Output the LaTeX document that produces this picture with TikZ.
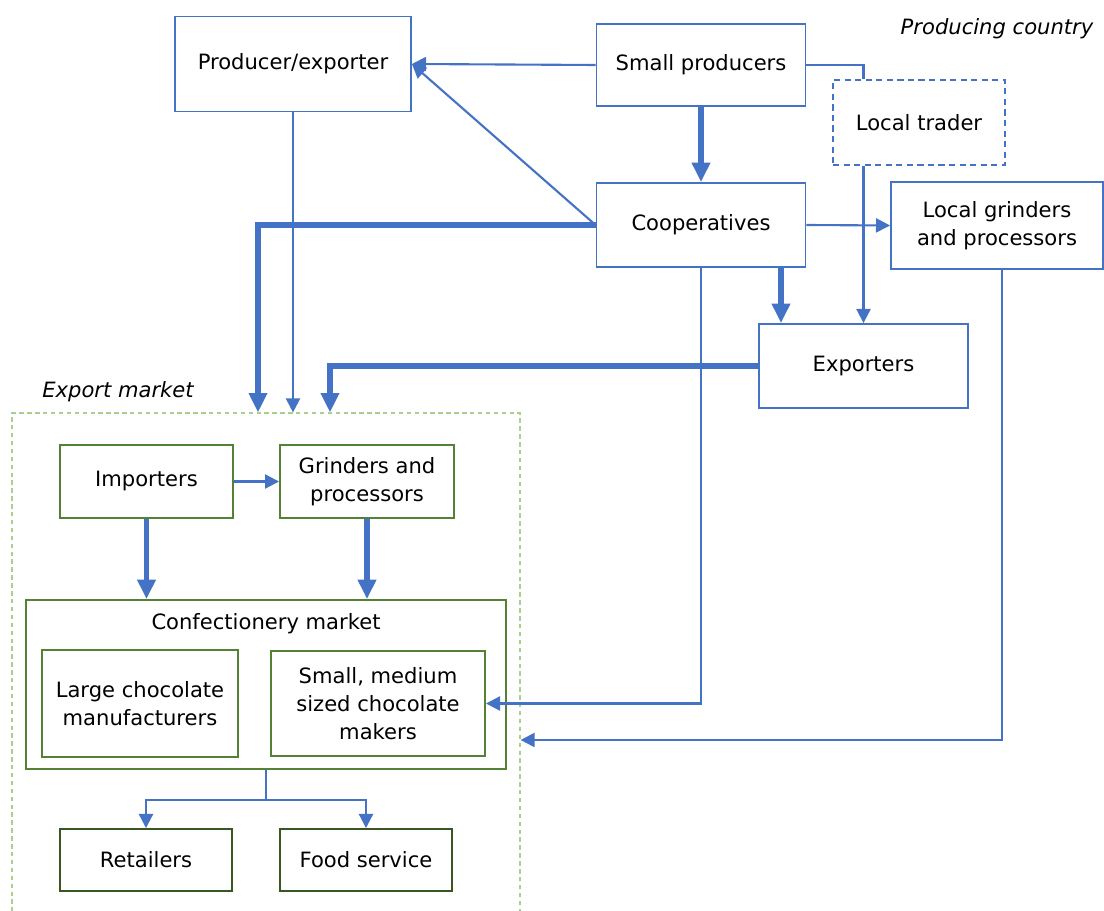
\documentclass[tikz,border=0pt]{standalone}
\usepackage{fontspec}
\setmainfont{DejaVu Sans}
\usetikzlibrary{arrows.meta}
\definecolor{flowblue}{HTML}{4472C4}
\definecolor{boxgreen}{HTML}{548235}
\definecolor{darkgreen}{HTML}{385723}
\definecolor{paleGreen}{HTML}{A9D18E}
\tikzset{
bluebox/.style={
	  draw=flowblue, line width=1.1pt, align=center,
	    font=\fontsize{12}{16}\selectfont, inner sep=2pt},
greenbox/.style={
	  draw=boxgreen, line width=1.1pt, align=center,
	    font=\fontsize{12}{16}\selectfont, inner sep=2pt},
marketbox/.style={
	  draw=paleGreen, line width=0.7pt, dash pattern=on 2.5pt off 2pt},
flow/.style={
	  draw=flowblue, line width=1.2pt, -{Triangle[length=8pt,width=8pt]}},
mainflow/.style={
	  draw=flowblue, line width=3.2pt, -{Triangle[length=11pt,width=10pt]}},
link/.style={draw=flowblue, line width=1.2pt}
}

\begin{document}
\begin{tikzpicture}[x=0.02cm, y=-0.02cm]
	\useasboundingbox (0,0) rectangle (1104,911);
	\node[bluebox, minimum width=4.72cm, minimum height=1.9cm] (prodexp) at (293,64) {Producer/exporter};
	\node[bluebox, minimum width=4.18cm, minimum height=1.64cm] (smallprod) at (701,65) {Small producers};
	\node[bluebox, dash pattern=on 3.5pt off 2.5pt, minimum width=3.44cm, minimum height=1.7cm] (trader) at (919,122.5) {Local trader};
	\node[bluebox, minimum width=4.18cm, minimum height=1.68cm] (coop) at (701,225) {Cooperatives};
	\node[bluebox, minimum width=4.24cm, minimum height=1.74cm] (localgrind) at (997,225.5) {Local grinders\\and processors};
	\node[bluebox, minimum width=4.18cm, minimum height=1.68cm] (exporters) at (863.5,366) {Exporters};
	\node[font=\fontsize{12}{16}\selectfont\itshape] (producing) at (997,29) {Producing country};
	\node[marketbox, minimum width=10.16cm, minimum height=10.28cm] (export) at (266,670) {};
	\node[font=\fontsize{12}{16}\selectfont\itshape] (exportlabel) at (118,392) {Export market};
	\node[greenbox, minimum width=3.46cm, minimum height=1.46cm] (importers) at (146.5,481.5) {Importers};
	\node[greenbox, minimum width=3.48cm, minimum height=1.46cm] (grinders) at (367,481.5) {Grinders and\\processors};
	\node[greenbox, minimum width=9.6cm, minimum height=3.38cm] (confect) at (266,684.5) {};
	\node[font=\fontsize{12}{16}\selectfont] (conftitle) at (266,624) {Confectionery market};
	\node[greenbox, minimum width=3.92cm, minimum height=2.14cm] (large) at (140,703.5) {Large chocolate\\manufacturers};
	\node[greenbox, minimum width=4.28cm, minimum height=2.1cm] (smallmed) at (378,703.5) {Small, medium\\sized chocolate\\makers};
	\node[greenbox, draw=darkgreen, minimum width=3.44cm, minimum height=1.24cm] (retail) at (146,860) {Retailers};
	\node[greenbox, draw=darkgreen, minimum width=3.44cm, minimum height=1.24cm] (food) at (366,860) {Food service};
	\coordinate (split) at ([yshift=-0.6cm]confect.south);

	\draw[flow] (smallprod.west) -- (prodexp.east);
	\draw[flow] (coop.west) -- (prodexp.east);
	\draw[link] (smallprod.east) -| (trader.north -| exporters.north);
	\draw[flow] (trader.south -| exporters.north) -- (exporters.north);
	\draw[mainflow] (smallprod) -- (coop);
	\draw[flow] (coop.east) -- (localgrind.west);
	\draw[mainflow] ([xshift=1.6cm]coop.south) -- ([xshift=1.6cm]coop.south |- exporters.north);
	\draw[mainflow] (coop.west) -| ([xshift=-0.16cm]export.north);
	\draw[flow] (prodexp.south) -- (prodexp.south |- export.north);
	\draw[mainflow] (exporters.west) -| ([xshift=1.28cm]export.north);
	\draw[flow] (coop.south) |- (smallmed.east);
	\draw[flow] ([xshift=0.1cm]localgrind.south) |- ([yshift=-1.4cm]export.east);
	\draw[flow] (importers.east) -- (grinders.west);
	\draw[mainflow] (importers.south) -- (importers.south |- confect.north);
	\draw[mainflow] (grinders.south) -- (grinders.south |- confect.north);
	\draw[link] (confect.south) -- (split);
	\draw[flow] (split) -| (retail.north);
	\draw[flow] (split) -| (food.north);
\end{tikzpicture}
\end{document}
